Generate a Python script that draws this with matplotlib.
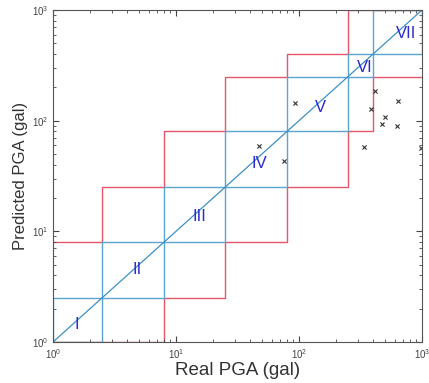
import numpy as np
import matplotlib
matplotlib.use('Agg')
import matplotlib.pyplot as plt
from matplotlib.ticker import LogLocator, NullFormatter

plt.rcParams['font.family'] = ['Liberation Sans', 'DejaVu Sans']

# Intensity class boundaries (gal) and labels
bounds = [1, 2.5, 8, 25, 80, 250, 400, 1000]
classes = ['I', 'II', 'III', 'IV', 'V', 'VI', 'VII']
label_x = [1.55, 4.8, 15.5, 48, 150, 345, 740]
label_y = [1.45, 4.5, 13.5, 41, 132, 300, 615]

# Observed vs predicted PGA (gal)
real_pga = [92, 47.7, 75, 413, 383, 637, 499, 471, 624, 336, 980]
pred_pga = [144, 59, 43.3, 184, 128, 150, 109, 94, 90, 58, 56.5]

blue = '#5ba6d0'
red = '#e5566a'

fig = plt.figure(figsize=(4.29, 3.83), dpi=100)
ax = fig.add_axes([53/429, 41/383, 369/429, 332/383])
ax.set_xscale('log')
ax.set_yscale('log')

n = len(classes)
# red staircases: one class above / below the true class
up_x, up_y, lo_x, lo_y = [], [], [], []
for i in range(n):
    x0, x1 = bounds[i], bounds[i + 1]
    up = bounds[min(i + 2, n)]
    lo = bounds[max(i - 1, 0)]
    up_x += [x0, x1]; up_y += [up, up]
    lo_x += [x0, x1]; lo_y += [lo, lo]
ax.plot(up_x, up_y, color=red, lw=1.0, zorder=1)
ax.plot(lo_x, lo_y, color=red, lw=1.0, zorder=1)

# blue squares: matching class on both axes
for i in range(n):
    a, b = bounds[i], bounds[i + 1]
    ax.plot([a, b, b, a, a], [a, a, b, b, a], color=blue, lw=1.0, zorder=2)

ax.plot([bounds[0], bounds[-1]], [bounds[0], bounds[-1]], color='#3d8fc4', lw=0.9, zorder=3)

ax.scatter(real_pga, pred_pga, marker='x', s=9, color='#333333', linewidths=0.8, zorder=4)

for lab, lx, ly in zip(classes, label_x, label_y):
    ax.text(lx, ly, lab, color='#2a2ad0', fontsize=12, ha='center', va='center', zorder=5)

ax.set_xlim(1, 1000)
ax.set_ylim(1, 1000)
for axis in (ax.xaxis, ax.yaxis):
    axis.set_major_locator(LogLocator(base=10, numticks=5))
    axis.set_minor_locator(LogLocator(base=10, subs=np.arange(2, 10), numticks=20))
    axis.set_minor_formatter(NullFormatter())
ax.tick_params(which='both', direction='in', top=True, right=True, labelsize=7,
               colors='#444444', labelcolor='#444444')
ax.tick_params(which='major', length=4)
ax.tick_params(which='minor', length=2)
for sp in ax.spines.values():
    sp.set_color('#555555')
    sp.set_linewidth(0.8)
    sp.set_zorder(6)

ax.set_xlabel('Real PGA (gal)', fontsize=13.5, color='#333333', labelpad=1)
ax.set_ylabel('Predicted PGA (gal)', fontsize=12, color='#333333', labelpad=3)

fig.savefig('out.png', dpi=100)
